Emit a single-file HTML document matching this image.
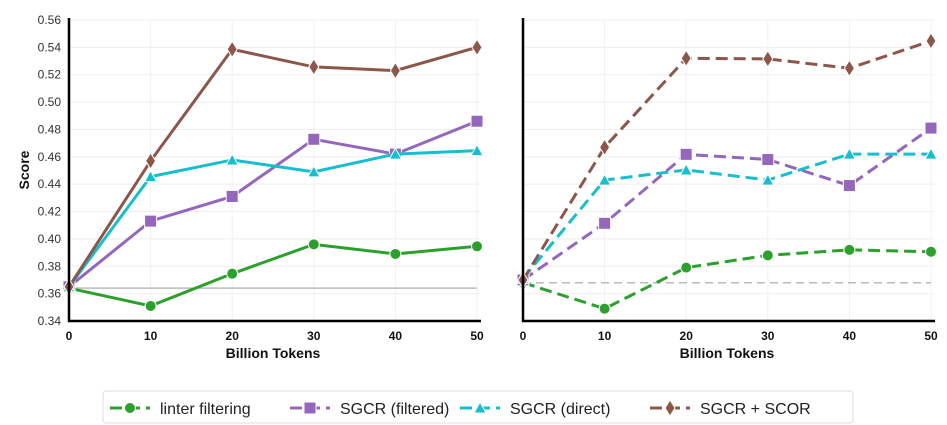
<!DOCTYPE html>
<html><head><meta charset="utf-8"><style>
html,body{margin:0;padding:0;background:#fff;}
svg{display:block;font-family:"Liberation Sans",Arial,sans-serif;}
</style></head><body>
<svg id="chart" width="947" height="425" viewBox="0 0 947 425"></svg>
<script>
const xTicks = [0, 10, 20, 30, 40, 50];
const yTicks = [0.34, 0.36, 0.38, 0.40, 0.42, 0.44, 0.46, 0.48, 0.50, 0.52, 0.54, 0.56];
const seriesNames = ["linter filtering", "SGCR (filtered)", "SGCR (direct)", "SGCR + SCOR"];
const leftLinter = [0.364, 0.351, 0.3746, 0.396, 0.389, 0.3946];
const leftFiltered = [0.365, 0.413, 0.431, 0.4728, 0.462, 0.486];
const leftDirect = [0.365, 0.4455, 0.4577, 0.449, 0.462, 0.4645];
const leftScor = [0.365, 0.457, 0.5386, 0.5257, 0.523, 0.540];
const leftBaseline = 0.364;
const rightLinter = [0.368, 0.349, 0.379, 0.388, 0.392, 0.3906];
const rightFiltered = [0.370, 0.4114, 0.4618, 0.458, 0.439, 0.481];
const rightDirect = [0.371, 0.443, 0.4504, 0.443, 0.462, 0.462];
const rightScor = [0.370, 0.467, 0.532, 0.5316, 0.5247, 0.5447];
const rightBaseline = 0.368;

const colors = ["#2ca02c", "#9467bd", "#17becf", "#8c564b"];
const markers = ["circle", "square", "triangle", "diamond"];
const NS = "http://www.w3.org/2000/svg";
const svg = document.getElementById("chart");
function mk(tag, attrs, parent) {
  const e = document.createElementNS(NS, tag);
  for (const k in attrs) e.setAttribute(k, attrs[k]);
  (parent || svg).appendChild(e);
  return e;
}
const yTop = 20, yBot = 321, yMin = 0.34, yMax = 0.56;
function yScale(v) { return yBot - (v - yMin) / (yMax - yMin) * (yBot - yTop); }

function drawMarker(g, type, cx, cy, color) {
  let m;
  if (type === "circle") m = mk("circle", {cx: cx, cy: cy, r: 5.5, fill: color, stroke: "#fff", "stroke-width": 1}, g);
  else if (type === "square") m = mk("rect", {x: cx - 6, y: cy - 6, width: 12, height: 12, fill: color, stroke: "#fff", "stroke-width": 1}, g);
  else if (type === "triangle") m = mk("polygon", {points: `${cx},${cy - 6} ${cx + 6},${cy + 5} ${cx - 6},${cy + 5}`, fill: color, stroke: "#fff", "stroke-width": 1}, g);
  else m = mk("polygon", {points: `${cx},${cy - 8} ${cx + 5},${cy} ${cx},${cy + 8} ${cx - 5},${cy}`, fill: color, stroke: "#fff", "stroke-width": 1}, g);
  return m;
}

function panel(name, x0, x1, data, baseline, dashed, showY) {
  const xScale = v => x0 + (v - 0) / 50 * (x1 - x0);
  const g = mk("g", {});
  
  
  // grid
  yTicks.forEach(t => {
    const l = mk("line", {x1: x0, x2: x1 + 3, y1: yScale(t), y2: yScale(t), stroke: "#eeeeee", "stroke-width": 1}, g);
    
    
    if (showY) {
      const tx = mk("text", {x: x0 - 8, y: yScale(t) + 4, "text-anchor": "end", "font-size": 12, fill: "#333"}, g);
      tx.textContent = t.toFixed(2);
      
      
    }
  });
  xTicks.forEach(t => {
    const l = mk("line", {x1: xScale(t), x2: xScale(t), y1: yTop, y2: yBot, stroke: "#f2f2f2", "stroke-width": 1}, g);
    
    
    const tx = mk("text", {x: xScale(t), y: 340, "text-anchor": "middle", "font-size": 12, "font-weight": "bold", fill: "#111"}, g);
    tx.textContent = t;
    
    
  });
  const bl = mk("line", {x1: x0, x2: x1, y1: yScale(baseline), y2: yScale(baseline), stroke: "#bbbbbb", "stroke-width": 1.5, "stroke-dasharray": dashed ? "8,5" : "none"}, g);
  
  
  data.forEach((vals, i) => {
    const pts = vals.map((v, j) => `${xScale(xTicks[j])},${yScale(v)}`).join(" ");
    const pl = mk("polyline", {points: pts, fill: "none", stroke: colors[i], "stroke-width": 3, "stroke-dasharray": dashed ? "12,6" : "none"}, g);
    
    
    vals.forEach((v, j) => {
      const m = drawMarker(g, markers[i], xScale(xTicks[j]), yScale(v), colors[i]);
      
      
    });
  });
  const ax = mk("path", {d: `M${x0},${yTop - 2} L${x0},${yBot} L${x1 + 4},${yBot}`, fill: "none", stroke: "#000", "stroke-width": 2.5}, g);
  
  
  const xt = mk("text", {x: (x0 + x1) / 2, y: 358, "text-anchor": "middle", "font-size": 14, "font-weight": "bold", fill: "#111"}, g);
  xt.textContent = "Billion Tokens";
  
  
}
panel("left-panel", 69, 477, [leftLinter, leftFiltered, leftDirect, leftScor], leftBaseline, false, true);
panel("right-panel", 523, 931, [rightLinter, rightFiltered, rightDirect, rightScor], rightBaseline, true, false);
const yt = mk("text", {x: 0, y: 0, transform: "translate(29,170) rotate(-90)", "text-anchor": "middle", "font-size": 14, "font-weight": "bold", fill: "#111"});
yt.textContent = "Score";



// legend
const lg = mk("g", {});


const box = mk("rect", {x: 103, y: 391, width: 750, height: 32, rx: 3, fill: "#fff", stroke: "#dddddd", "stroke-width": 1}, lg);


const hx = [110, 290, 460, 650];
seriesNames.forEach((n, i) => {
  const e = mk("g", {}, lg);
  
  
  mk("line", {x1: hx[i], x2: hx[i] + 40, y1: 408, y2: 408, stroke: colors[i], "stroke-width": 3, "stroke-dasharray": "12,6"}, e);
  drawMarker(e, markers[i], hx[i] + 20, 408, colors[i]);
  const t = mk("text", {x: hx[i] + 50, y: 414, "font-size": 16, fill: "#222"}, e);
  t.textContent = n;
});
</script>
</body></html>
